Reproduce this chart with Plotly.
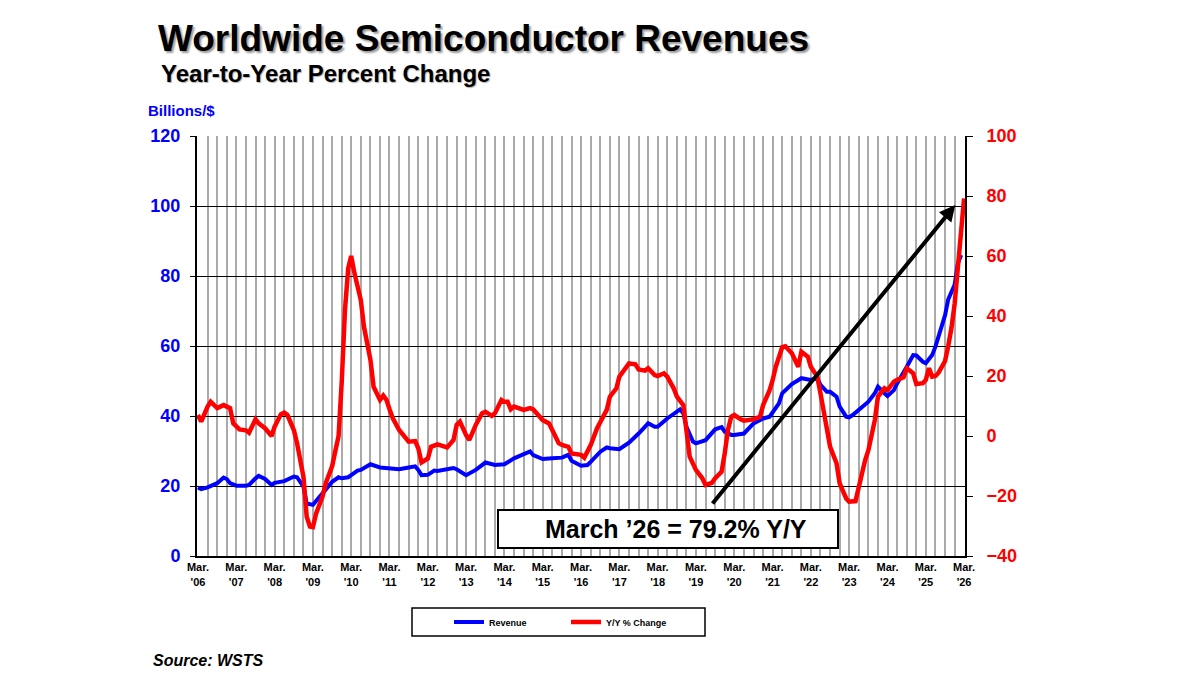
import plotly.graph_objects as go

# Monthly revenue in billions of dollars (left axis)
rev_dates = [
    "2006-03", "2006-04", "2006-06", "2006-09", "2006-11", "2006-12", "2007-01", "2007-03",
    "2007-06", "2007-07", "2007-09", "2007-10", "2007-12", "2008-02", "2008-03", "2008-06",
    "2008-09", "2008-10", "2008-12", "2009-01", "2009-03", "2009-04", "2009-06", "2009-09",
    "2009-11", "2009-12", "2010-02", "2010-03", "2010-05", "2010-06", "2010-09", "2010-12",
    "2011-03", "2011-06", "2011-09", "2011-11", "2011-12", "2012-01", "2012-03", "2012-05",
    "2012-06", "2012-09", "2012-11", "2012-12", "2013-03", "2013-06", "2013-09", "2013-12",
    "2014-03", "2014-06", "2014-09", "2014-11", "2014-12", "2015-03", "2015-06", "2015-09",
    "2015-11", "2015-12", "2016-03", "2016-05", "2016-06", "2016-09", "2016-11", "2016-12",
    "2017-03", "2017-06", "2017-09", "2017-12", "2018-02", "2018-03", "2018-06", "2018-09",
    "2018-10", "2018-11", "2018-12", "2019-02", "2019-03", "2019-06", "2019-09", "2019-11",
    "2019-12", "2020-02", "2020-03", "2020-06", "2020-08", "2020-09", "2020-12", "2021-02",
    "2021-03", "2021-05", "2021-06", "2021-09", "2021-12", "2022-02", "2022-03", "2022-05",
    "2022-06", "2022-08", "2022-09", "2022-11", "2022-12", "2023-02", "2023-03", "2023-04",
    "2023-06", "2023-08", "2023-09", "2023-11", "2023-12", "2024-02", "2024-03", "2024-05",
    "2024-06", "2024-09", "2024-11", "2024-12", "2025-02", "2025-03", "2025-05", "2025-06",
    "2025-07", "2025-09", "2025-10", "2025-12", "2026-01", "2026-02",
]
rev_values = [
    19.6, 19.1, 19.6, 20.8, 22.4, 22.0, 20.8, 20.1,
    20.1, 20.3, 22.2, 22.9, 22.0, 20.3, 20.9, 21.4,
    22.7, 22.5, 19.8, 15.0, 14.6, 15.8, 17.9, 21.2,
    22.5, 22.2, 22.5, 23.1, 24.4, 24.6, 26.2, 25.3,
    25.0, 24.8, 25.3, 25.6, 24.6, 23.1, 23.2, 24.4,
    24.3, 24.7, 25.1, 24.8, 23.1, 24.6, 26.7, 26.0,
    26.2, 27.9, 29.0, 29.9, 28.8, 27.7, 27.9, 28.1,
    28.9, 27.2, 25.8, 26.0, 26.9, 29.8, 31.0, 30.8,
    30.5, 32.4, 35.0, 37.9, 36.9, 36.9, 39.3, 41.4,
    41.9, 40.8, 36.9, 32.7, 32.2, 33.1, 36.2, 36.8,
    35.5, 34.6, 34.6, 35.0, 36.9, 37.9, 39.3, 39.8,
    41.0, 43.6, 46.5, 49.1, 50.8, 50.3, 50.3, 50.8,
    48.9, 46.9, 46.9, 45.5, 42.7, 39.8, 39.6, 40.2,
    41.7, 43.4, 44.1, 46.5, 48.4, 46.5, 45.7, 47.4,
    49.3, 54.1, 57.4, 57.3, 55.5, 55.1, 57.4, 59.8,
    62.7, 68.8, 73.3, 77.5, 83.6, 86.0,
]

# Year-to-year percent change (right axis)
yoy_dates = [
    "2006-03", "2006-04", "2006-06", "2006-07", "2006-09", "2006-11", "2006-12", "2007-01",
    "2007-02", "2007-03", "2007-04", "2007-06", "2007-07", "2007-09", "2007-10", "2007-12",
    "2008-02", "2008-03", "2008-05", "2008-06", "2008-07", "2008-09", "2008-10", "2008-12",
    "2009-01", "2009-02", "2009-03", "2009-04", "2009-06", "2009-07", "2009-09", "2009-10",
    "2009-11", "2009-12", "2010-01", "2010-02", "2010-03", "2010-04", "2010-05", "2010-06",
    "2010-07", "2010-09", "2010-10", "2010-12", "2011-01", "2011-02", "2011-03", "2011-04",
    "2011-06", "2011-08", "2011-09", "2011-11", "2011-12", "2012-01", "2012-02", "2012-03",
    "2012-04", "2012-06", "2012-09", "2012-11", "2012-12", "2013-01", "2013-03", "2013-04",
    "2013-06", "2013-08", "2013-09", "2013-11", "2013-12", "2014-02", "2014-03", "2014-04",
    "2014-05", "2014-06", "2014-09", "2014-11", "2014-12", "2015-02", "2015-03", "2015-05",
    "2015-06", "2015-08", "2015-09", "2015-11", "2015-12", "2016-02", "2016-03", "2016-04",
    "2016-06", "2016-08", "2016-09", "2016-11", "2016-12", "2017-02", "2017-03", "2017-05",
    "2017-06", "2017-08", "2017-09", "2017-11", "2017-12", "2018-02", "2018-03", "2018-05",
    "2018-06", "2018-08", "2018-09", "2018-11", "2018-12", "2019-01", "2019-03", "2019-05",
    "2019-06", "2019-08", "2019-09", "2019-11", "2019-12", "2020-01", "2020-02", "2020-03",
    "2020-05", "2020-06", "2020-09", "2020-11", "2020-12", "2021-02", "2021-03", "2021-04",
    "2021-06", "2021-07", "2021-09", "2021-11", "2021-12", "2022-02", "2022-03", "2022-05",
    "2022-06", "2022-08", "2022-09", "2022-11", "2022-12", "2023-02", "2023-03", "2023-05",
    "2023-06", "2023-08", "2023-09", "2023-11", "2023-12", "2024-02", "2024-03", "2024-05",
    "2024-06", "2024-08", "2024-09", "2024-11", "2024-12", "2025-02", "2025-03", "2025-04",
    "2025-05", "2025-06", "2025-07", "2025-09", "2025-10", "2025-11", "2025-12", "2026-01",
    "2026-02", "2026-03",
]
yoy_values = [
    7.0, 4.8, 9.8, 11.4, 9.3, 10.3, 9.8, 9.3,
    4.2, 3.1, 2.2, 1.9, 1.1, 5.6, 4.2, 2.6,
    0.0, 3.1, 7.3, 7.8, 7.0, 1.9, -2.4, -13.6,
    -26.9, -30.2, -30.4, -25.8, -20.2, -15.8, -10.0, -5.0,
    0.0, 18.0, 42.0, 56.0, 60.0, 54.3, 49.8, 45.3,
    36.4, 25.3, 16.4, 12.0, 13.5, 12.0, 9.0, 6.0,
    2.0, -0.8, -1.9, -1.7, -4.1, -8.8, -8.1, -7.5,
    -3.6, -2.8, -3.8, -1.3, 3.7, 4.8, 0.3, -1.3,
    3.7, 7.6, 8.1, 6.7, 7.6, 12.0, 11.4, 11.4,
    8.9, 9.8, 8.7, 9.3, 8.9, 6.4, 5.3, 4.2,
    2.0, -2.4, -3.0, -3.6, -5.8, -6.0, -6.3, -7.2,
    -3.0, 2.6, 4.8, 8.7, 13.1, 15.9, 19.8, 23.1,
    24.2, 23.9, 22.2, 21.8, 22.6, 20.3, 20.0, 20.9,
    19.8, 15.9, 13.1, 10.3, 0.9, -6.9, -11.3, -14.1,
    -16.3, -15.6, -14.1, -11.9, -5.8, 2.0, 6.4, 7.0,
    5.6, 5.1, 5.6, 6.4, 10.3, 15.3, 18.5, 23.1,
    29.6, 29.9, 27.6, 23.1, 28.1, 26.4, 23.1, 19.8,
    14.2, 0.9, -3.6, -9.1, -15.8, -20.8, -21.9, -21.7,
    -16.9, -8.0, -4.7, 5.3, 13.1, 15.9, 15.3, 18.1,
    18.7, 19.6, 22.6, 20.9, 17.3, 17.6, 18.7, 22.6,
    19.8, 20.0, 21.1, 25.0, 30.0, 36.0, 44.0, 55.0,
    68.0, 79.2,
]

# quarterly gridlines, labelled only at March of each year
quarter_ticks = [f"{y}-{m:02d}-01" for y in range(2006, 2027) for m in (3, 6, 9, 12)][:-3]
quarter_labels = [f"Mar.<br>'{int(t[2:4]):02d}" if t[5:7] == "03" else "" for t in quarter_ticks]

FONT = "Liberation Sans, Arial, sans-serif"
W, H = 1200, 676
OFF = 8  # page body margin
PL, PT, PW, PH = 197, 136, 768, 420  # plot area on screen
L, T = PL - OFF, PT - OFF
R, B = W - L - PW, H - T - PH


# screen pixel -> paper helpers for the decorations
def px(x):
    return (x - PL) / PW


def py(y):
    return (PT + PH - y) / PH


fig = go.Figure()

fig.add_trace(
    go.Scatter(
        x=rev_dates,
        y=rev_values,
        name="Revenue",
        mode="lines",
        line=dict(color="#0000ff", width=4),
        yaxis="y",
    )
)

fig.add_trace(
    go.Scatter(
        x=yoy_dates,
        y=yoy_values,
        name="Y/Y % Change",
        mode="lines",
        line=dict(color="#ff0000", width=4.5),
        yaxis="y2",
    )
)

fig.update_layout(
    width=W,
    height=H,
    margin=dict(l=L, r=R, t=T, b=B),
    paper_bgcolor="white",
    plot_bgcolor="white",
    font=dict(family=FONT, color="black"),
    title=dict(
        text="Worldwide Semiconductor Revenues",
        font=dict(family=FONT, size=37, color="black", weight="bold", shadow="2px 2px 2px #9a9a9a"),
        xref="container",
        yref="container",
        x=(158 - OFF) / W,
        xanchor="left",
        y=1 - (38 - OFF) / H,
        yanchor="middle",
    ),
    xaxis=dict(
        type="date",
        range=["2006-02-20", "2026-03-10"],
        tickvals=quarter_ticks,
        ticktext=quarter_labels,
        tickangle=0,
        tickfont=dict(family=FONT, size=11, color="black", weight="bold"),
        showgrid=True,
        gridcolor="#aaaaaa",
        gridwidth=2,
        showline=True,
        linecolor="black",
        linewidth=2,
        ticks="",
        zeroline=False,
    ),
    yaxis=dict(
        range=[0, 120],
        dtick=20,
        showgrid=True,
        gridcolor="black",
        gridwidth=1.2,
        showline=True,
        linecolor="black",
        linewidth=2,
        ticks="outside",
        ticklen=5,
        tickcolor="black",
        ticklabelstandoff=6,
        tickfont=dict(family=FONT, size=18, color="#0000ff", weight="bold"),
        zeroline=False,
    ),
    yaxis2=dict(
        range=[-40, 100],
        dtick=20,
        overlaying="y",
        side="right",
        showgrid=False,
        showline=True,
        linecolor="black",
        linewidth=2,
        ticks="outside",
        ticklen=6,
        tickcolor="black",
        ticklabelstandoff=10,
        tickfont=dict(family=FONT, size=18, color="#ff0000", weight="bold"),
        zeroline=False,
    ),
    legend=dict(
        orientation="h",
        x=px(449),
        xanchor="left",
        y=py(622),
        yanchor="middle",
        bgcolor="rgba(0,0,0,0)",
        borderwidth=0,
        entrywidth=72,
        font=dict(family=FONT, size=9, color="black", weight="bold"),
    ),
    showlegend=True,
)

# legend frame
fig.add_shape(
    type="rect",
    xref="paper",
    yref="paper",
    x0=px(412),
    x1=px(705),
    y0=py(636),
    y1=py(608),
    line=dict(color="black", width=1.5),
)

# callout box
fig.add_shape(
    type="rect",
    xref="paper",
    yref="paper",
    x0=px(498),
    x1=px(838),
    y0=py(548),
    y1=py(510),
    line=dict(color="black", width=2),
    fillcolor="white",
    layer="above",
)

fig.add_annotation(
    text="March \u201926 = 79.2% Y/Y",
    xref="paper",
    yref="paper",
    x=px(676),
    y=py(529),
    xanchor="center",
    yanchor="middle",
    showarrow=False,
    font=dict(family=FONT, size=25, color="black", weight="bold"),
)

# arrow pointing at the latest value
fig.add_annotation(
    text="",
    x="2025-12-07",
    y=100.3,
    xref="x",
    yref="y",
    ax="2019-07-26",
    ay=14.6,
    axref="x",
    ayref="y",
    showarrow=True,
    arrowhead=2,
    arrowsize=0.8,
    arrowwidth=4,
    arrowcolor="black",
)

fig.add_annotation(
    text="Year-to-Year Percent Change",
    xref="paper",
    yref="paper",
    x=px(159),
    y=py(73),
    xanchor="left",
    yanchor="middle",
    showarrow=False,
    font=dict(family=FONT, size=24, color="black", weight="bold", shadow="1px 1px 1px #b0b0b0"),
)

fig.add_annotation(
    text="Billions/$",
    xref="paper",
    yref="paper",
    x=px(146),
    y=py(110),
    xanchor="left",
    yanchor="middle",
    showarrow=False,
    font=dict(family=FONT, size=15, color="#0000ff", weight="bold"),
)

fig.add_annotation(
    text="<i>Source: WSTS</i>",
    xref="paper",
    yref="paper",
    x=px(151),
    y=py(660),
    xanchor="left",
    yanchor="middle",
    showarrow=False,
    font=dict(family=FONT, size=16, color="black", weight="bold"),
)

fig.write_html("out.html")
